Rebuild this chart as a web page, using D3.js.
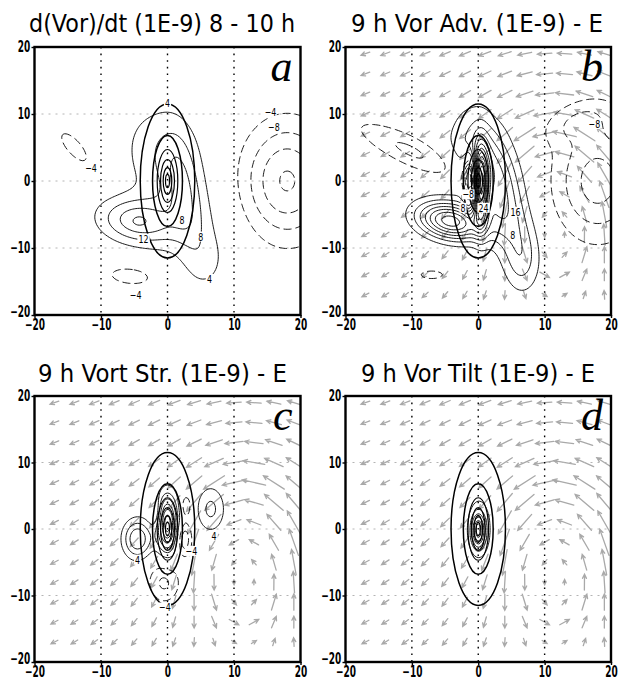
<!DOCTYPE html>
<html>
<head>
<meta charset="utf-8">
<script src="https://cdn.jsdelivr.net/npm/d3@7"></script>
<style>
    body { margin: 0; background: #fff; }
    svg { display: block; }
    .title { font-family: "DejaVu Sans", sans-serif; font-size: 24px; fill: #000; }
    .letter { font-family: "Liberation Serif", "DejaVu Serif", serif; font-style: italic; font-size: 44px; fill: #000; }
    .clabel { font-family: "DejaVu Sans", sans-serif; font-size: 11px; fill: #000; }
</style>
</head>
<body>
<svg id="chart" width="618" height="681"></svg>
<script>
'use strict';

// Titles, panel letters and axis ticks
const panelLetters = ['a', 'b', 'c', 'd'];
const panelTitles = [
    'd(Vor)/dt (1E-9) 8 - 10 h',
    '9 h Vor Adv. (1E-9) - E',
    '9 h Vort Str. (1E-9) - E',
    '9 h Vor Tilt (1E-9) - E'
];
const axisTicks = [-20, -10, 0, 10, 20];
const gridLines = [-10, 0, 10];

// Contour interval 4 (1E-9 s^-2), negative values dashed
const contourLevels = [-40, -36, -32, -28, -24, -20, -16, -12, -8, -4,
    4, 8, 12, 16, 20, 24, 28, 32, 36, 40, 44, 48];

// 9 h vortex vorticity contours (elliptic), semi-axes in km
const vortexRx = [4.1, 2.25, 1.55, 1.05, 0.65, 0.3];
const vortexRy = [11.5, 6.8, 4.7, 3.2, 2.0, 1.0];

// Tendency features: [x, y, sx, sy, amplitude, tilt deg]
const featuresA = [
    [-4.6, -6.0, 4.0, 2.3, 14, -8],
    [-4.3, -6.0, 0.6, 0.4, 3, 0],
    [2.4, -1.5, 1.8, 5.5, 8, 8],
    [1.5, -2.5, 4.2, 8.5, 5.5, 25],
    [-0.5, 5.5, 3.8, 4.2, 4, 0],
    [5.5, -12.0, 2.0, 2.8, 3.2, 0],
    [-14.0, 5.0, 3.3, 1.3, -5.5, -48],
    [-5.5, -14.2, 3.6, 1.4, -5.5, -5],
    [18.0, 0.0, 4.6, 6.0, -16.5, 0]
];
const featuresB = [
    [-4.2, -6.0, 3.4, 1.8, 30, -12],
    [0.4, -0.8, 0.75, 3.8, 40, 0],
    [-1.2, 0.3, 0.7, 2.5, -28, 0],
    [3.0, -1.5, 2.4, 6.5, 18, 18],
    [6.5, -12.0, 1.8, 3.3, 7, 0],
    [-0.5, 4.0, 4.0, 4.4, 5.5, 0],
    [-9.5, 4.2, 7.0, 1.7, -9, -25],
    [18.0, 0.0, 4.5, 6.0, -14, 0],
    [15.0, 9.0, 4.0, 2.0, -6, 20],
    [-7.0, -14.0, 2.0, 0.7, -5.5, 0]
];
const featuresC = [
    [-4.5, -1.5, 1.5, 2.0, 16, 0],
    [6.5, 3.0, 1.5, 2.4, 9, 0],
    [0.0, 0.8, 1.1, 3.0, 26, 0],
    [2.5, -1.5, 0.8, 1.8, -12, 0],
    [-0.5, -8.0, 1.7, 2.2, -9, 0],
    [2.8, 3.5, 0.6, 1.2, -8, 0],
    [-1.8, 2.5, 0.6, 1.5, -6, 0]
];
const featuresD = [
    [0.0, -0.3, 0.7, 1.7, 22, 0],
    [0.2, 0.3, 1.4, 3.6, 6, 0]
];

// Contour labels: [x, y, text]
const labelsA = [[0, 11.6, '4'], [6.3, -14.6, '4'], [2.2, -5.9, '8'], [5.0, -8.3, '8'],
    [-3.6, -8.6, '12'], [-11.5, 2.0, '-4'], [-4.8, -17.0, '-4'], [15.5, 10.3, '-4'], [16.0, 8.1, '-8']];
const labelsB = [[17.5, 8.5, '-8'], [-1.5, -2.0, '-8'], [-2.3, -4.0, '8'], [0.8, -4.0, '24'],
    [5.6, -4.6, '16'], [5.2, -8.0, '8']];
const labelsC = [[-4.5, -4.6, '4'], [3.6, -3.3, '-4'], [7.0, -1.0, '4'], [-0.4, -11.8, '-4']];
const labelsD = [];

// 9 h storm-relative wind (m/s): elongated gyre to the east plus easterly flow
const windCols = [-17, -14, -11, -8, -5, -2, 1, 4, 7, 10, 13, 16, 19];
const windRows = [19, 16, 13, 10, 7, 4, 1, -2, -5, -8, -11, -14, -17];
const gyreCenter = [11.5, -3];
const gyreVmax = 15.5;
const gyreRmax = 7.5;
const gyreAspect = 1.5;
const gyreDecay = 1.4;
const meanWind = [-4.5, 0];

const featureSets = [featuresA, featuresB, featuresC, featuresD];
const labelSets = [labelsA, labelsB, labelsC, labelsD];
const showWind = [false, true, true, true];

(function () {

    const svg = d3.select('#chart');

    const boxes = [
        {x0: 34.5, x1: 300.5, y0: 47, y1: 315, tx: 29, tw: 266, ty: 32},
        {x0: 345.5, x1: 611, y0: 47, y1: 315, tx: 351, tw: 252, ty: 32},
        {x0: 34.5, x1: 300.5, y0: 396, y1: 662, tx: 38, tw: 249, ty: 382},
        {x0: 345.5, x1: 611, y0: 396, y1: 662, tx: 361, tw: 234, ty: 382}
    ];

    // Gridded field
    const step = 0.25;
    const lo = -21;
    const n = Math.round(42 / step) + 1;

    function field(features) {
        const values = new Float64Array(n * n);
        for (let j = 0; j < n; j++) {
            const y = lo + j * step;
            for (let i = 0; i < n; i++) {
                const x = lo + i * step;
                let v = 0;
                features.forEach(function (f) {
                    const a = f[5] * Math.PI / 180;
                    const dx = x - f[0], dy = y - f[1];
                    const u = dx * Math.cos(a) + dy * Math.sin(a);
                    const w = -dx * Math.sin(a) + dy * Math.cos(a);
                    v += f[4] * Math.exp(-0.5 * (u * u / (f[2] * f[2]) + w * w / (f[3] * f[3])));
                });
                values[j * n + i] = v;
            }
        }
        return values;
    }

    // Wind at a point from the elliptic gyre streamfunction
    function wind(x, y) {
        const dx = x - gyreCenter[0], dy = y - gyreCenter[1];
        const e2 = gyreAspect * gyreAspect;
        const r = Math.sqrt(dx * dx + dy * dy / e2) || 1e-6;
        const vt = r < gyreRmax ? gyreVmax * r / gyreRmax : gyreVmax * Math.pow(gyreRmax / r, gyreDecay);
        return [meanWind[0] - vt * dy / (e2 * r), meanWind[1] + vt * dx / r];
    }

    boxes.forEach(function (b, k) {

        const scX = d3.scaleLinear().domain([-20, 20]).range([b.x0, b.x1]);
        const scY = d3.scaleLinear().domain([-20, 20]).range([b.y1, b.y0]);

        const g = svg.append('g').attr('class', 'panel');

        const clipId = 'clip' + k;
        svg.append('clipPath').attr('id', clipId)
            .append('rect')
            .attr('x', b.x0).attr('y', b.y0)
            .attr('width', b.x1 - b.x0).attr('height', b.y1 - b.y0);

        const inner = g.append('g').attr('clip-path', `url(#${clipId})`);

        // Title
        g.append('text')
            .attr('class', 'title')
            .attr('x', b.tx)
            .attr('y', b.ty)
            .attr('textLength', b.tw)
            .attr('lengthAdjust', 'spacingAndGlyphs')
            .text(panelTitles[k]);

        // Wind vectors
        if (showWind[k]) {
            const pxPerMs = 1.7;
            const vecs = [];
            windRows.forEach(function (y) {
                windCols.forEach(function (x) {
                    vecs.push({x: x, y: y, uv: wind(x, y)});
                });
            });
            inner.selectAll('.vec')
                .data(vecs)
                .enter()
                .append('path')
                .attr('class', 'vec')
                .attr('d', function (d) {
                    const cx = scX(d.x), cy = scY(d.y);
                    const ux = d.uv[0] * pxPerMs, uy = -d.uv[1] * pxPerMs;
                    const len = Math.sqrt(ux * ux + uy * uy);
                    const x1 = cx - ux / 2, y1 = cy - uy / 2;
                    const x2 = cx + ux / 2, y2 = cy + uy / 2;
                    const ang = Math.atan2(uy, ux);
                    const h = Math.min(4.5, 0.45 * len + 1.5);
                    const spread = 0.45;
                    const hx1 = x2 - h * Math.cos(ang - spread), hy1 = y2 - h * Math.sin(ang - spread);
                    const hx2 = x2 - h * Math.cos(ang + spread), hy2 = y2 - h * Math.sin(ang + spread);
                    return `M${x1},${y1}L${x2},${y2}M${hx1},${hy1}L${x2},${y2}L${hx2},${hy2}`;
                })
                .style('fill', 'none')
                .style('stroke', '#a9a9a9')
                .style('stroke-width', 1.3)
                .style('stroke-linecap', 'round');
        }

        // Grid lines
        inner.selectAll('.hgrid')
            .data(gridLines)
            .enter()
            .append('line')
            .attr('x1', b.x0).attr('x2', b.x1)
            .attr('y1', (d) => scY(d)).attr('y2', (d) => scY(d))
            .style('stroke', '#b4b4b4')
            .style('stroke-width', 1)
            .style('stroke-dasharray', '2,5');

        inner.selectAll('.vgrid')
            .data(gridLines)
            .enter()
            .append('line')
            .attr('x1', (d) => scX(d)).attr('x2', (d) => scX(d))
            .attr('y1', b.y0).attr('y2', b.y1)
            .style('stroke', '#000')
            .style('stroke-width', 1.4)
            .style('stroke-dasharray', '1.6,5');

        // Contours of the tendency term
        const values = field(featureSets[k]);
        const contours = d3.contours().size([n, n]).thresholds(contourLevels)(values);
        const proj = d3.geoTransform({
            point: function (x, y) {
                this.stream.point(scX(lo + (x - 0.5) * step), scY(lo + (y - 0.5) * step));
            }
        });
        const path = d3.geoPath(proj);

        inner.selectAll('.cont')
            .data(contours)
            .enter()
            .append('path')
            .attr('class', 'cont')
            .attr('d', path)
            .style('fill', 'none')
            .style('stroke', '#000')
            .style('stroke-width', 0.9)
            .style('stroke-dasharray', (d) => d.value < 0 ? '8,4' : null);

        // Vortex vorticity ellipses
        inner.selectAll('.vort')
            .data(vortexRx.map((rx, i) => ({rx: rx, ry: vortexRy[i]})))
            .enter()
            .append('ellipse')
            .attr('cx', scX(0))
            .attr('cy', scY(0))
            .attr('rx', (d) => scX(d.rx) - scX(0))
            .attr('ry', (d) => scY(0) - scY(d.ry))
            .style('fill', 'none')
            .style('stroke', '#000')
            .style('stroke-width', (d, i) => i < 2 ? 1.5 : 1.2);

        // Contour labels
        const labs = inner.selectAll('.clab')
            .data(labelSets[k])
            .enter()
            .append('g')
            .attr('transform', (d) => `translate(${scX(d[0])},${scY(d[1])})`);
        labs.append('rect')
            .attr('x', (d) => -d[2].length * 2.6 - 1)
            .attr('y', -5)
            .attr('width', (d) => d[2].length * 5.2 + 2)
            .attr('height', 10)
            .style('fill', '#fff');
        labs.append('text')
            .attr('class', 'clabel')
            .attr('text-anchor', 'middle')
            .attr('dy', '0.36em')
            .attr('transform', 'scale(0.72,1)')
            .text((d) => d[2].replace('-', '\u2212'));

        // Panel letter
        g.append('text')
            .attr('class', 'letter')
            .attr('x', b.x1 - 8)
            .attr('y', b.y0 + 34)
            .attr('text-anchor', 'end')
            .text(panelLetters[k]);

        // Frame
        g.append('rect')
            .attr('x', b.x0).attr('y', b.y0)
            .attr('width', b.x1 - b.x0).attr('height', b.y1 - b.y0)
            .style('fill', 'none')
            .style('stroke', '#000')
            .style('stroke-width', 2.4);

        // Axes
        const fmt = (d) => d < 0 ? '\u2212' + Math.abs(d) : String(d);
        const xAxis = g.append('g')
            .attr('transform', `translate(0, ${b.y1})`)
            .call(d3.axisBottom(scX).tickValues(axisTicks).tickFormat(fmt).tickSize(3).tickPadding(1));
        const yAxis = g.append('g')
            .attr('transform', `translate(${b.x0}, 0)`)
            .call(d3.axisLeft(scY).tickValues(axisTicks).tickFormat(fmt).tickSize(3).tickPadding(2));
        [xAxis, yAxis].forEach(function (ax) {
            ax.attr('font-size', 15).attr('font-family', 'DejaVu Sans').attr('font-weight', 'bold');
            ax.select('.domain').remove();
            ax.selectAll('line').style('stroke', '#000').style('stroke-width', 1.4);
            ax.selectAll('text')
                .attr('fill', '#000')
                .attr('transform', 'scale(0.6,1)');
        });
        xAxis.selectAll('text').attr('dy', '0.72em');
        yAxis.selectAll('text').attr('x', -7);
        // lift the lowest y label a little so it clears the x label below
        yAxis.selectAll('text').filter((d) => d === -20).attr('dy', '0.1em');
    });

})();
</script>
</body>
</html>
